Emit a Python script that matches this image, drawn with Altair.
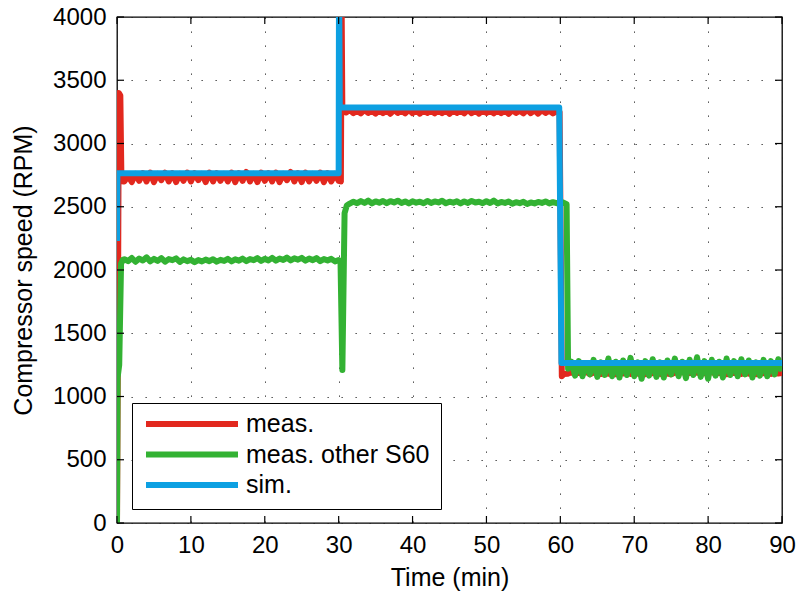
import altair as alt
import pandas as pd

# ---------------- data ----------------
series_names = ["meas.", "meas. other S60", "sim."]
series_colors = ["#E2281E", "#33B233", "#0DA0E2"]

x_ticks = [0, 10, 20, 30, 40, 50, 60, 70, 80, 90]
y_ticks = [0, 500, 1000, 1500, 2000, 2500, 3000, 3500, 4000]

# measured (red)
red_start_t = [0.0, 0.1, 0.25, 0.45, 0.6, 0.8]
red_start_v = [0, 1150, 3400, 3380, 2720, 2700]
red_seg1_t0 = 1.0
red_seg1 = [2700, 2745, 2695, 2760, 2705, 2765, 2700, 2770, 2695, 2760,
            2710, 2770, 2700, 2765, 2695, 2760, 2705, 2770, 2700, 2765,
            2710, 2760, 2695, 2770, 2700, 2765, 2705, 2760, 2700, 2770,
            2695, 2765, 2705, 2775, 2700, 2760, 2695, 2770, 2705, 2765,
            2700, 2770, 2695, 2760, 2710, 2775, 2700, 2765, 2695, 2770,
            2700, 2760, 2705, 2770, 2695, 2765, 2700, 2760, 2705]
red_jump1_t = [30.3, 30.4, 30.5]
red_jump1_v = [2700, 4100, 3260]
red_seg2_t0 = 31.0
red_seg2 = [3245, 3265, 3240, 3262, 3238, 3266, 3242, 3260, 3236, 3264,
            3240, 3262, 3235, 3265, 3242, 3260, 3238, 3266, 3240, 3262,
            3236, 3264, 3242, 3260, 3238, 3265, 3240, 3262, 3235, 3264,
            3242, 3260, 3238, 3266, 3240, 3262, 3236, 3264, 3242, 3260,
            3238, 3265, 3240, 3262, 3235, 3264, 3242, 3260, 3238, 3266,
            3240, 3262, 3236, 3264, 3242, 3260, 3238, 3255]
red_jump2_t = [59.9, 60.2, 60.5]
red_jump2_v = [3250, 1160, 1178]
red_seg3_t0 = 61.0
red_seg3 = [1180, 1192, 1178, 1188, 1182, 1195, 1176, 1190, 1184, 1178,
            1193, 1180, 1186, 1175, 1190, 1182, 1196, 1178, 1188, 1180,
            1192, 1176, 1186, 1184, 1194, 1178, 1188, 1182, 1175, 1190,
            1185, 1196, 1178, 1188, 1180, 1192, 1176, 1186, 1184, 1194,
            1178, 1188, 1182, 1175, 1190, 1185, 1196, 1178, 1188, 1180,
            1192, 1176, 1186, 1184, 1194, 1178, 1188, 1182, 1185]

# measured other S60 (green)
green_start_t = [0.0, 0.08, 0.3, 0.55, 0.8]
green_start_v = [0, 1150, 1250, 2050, 2080]
green_seg1_t0 = 1.0
green_seg1 = [2085, 2070, 2095, 2065, 2090, 2075, 2100, 2068, 2088, 2072,
              2094, 2066, 2086, 2078, 2092, 2064, 2084, 2070, 2080, 2062,
              2078, 2068, 2082, 2070, 2085, 2066, 2080, 2072, 2088, 2068,
              2084, 2074, 2090, 2070, 2086, 2078, 2094, 2072, 2088, 2076,
              2096, 2074, 2090, 2080, 2098, 2076, 2092, 2082, 2096, 2074,
              2090, 2078, 2094, 2070, 2086, 2076, 2088, 2068, 2078]
green_jump1_t = [30.25, 30.5, 30.8, 31.1]
green_jump1_v = [2070, 1210, 2450, 2510]
green_seg2_t0 = 31.5
green_seg2 = [2525, 2540, 2528, 2545, 2530, 2548, 2526, 2542, 2532, 2546,
              2528, 2544, 2534, 2548, 2530, 2542, 2526, 2544, 2532, 2540,
              2528, 2546, 2530, 2542, 2534, 2548, 2528, 2540, 2532, 2544,
              2526, 2542, 2530, 2546, 2534, 2540, 2528, 2544, 2530, 2548,
              2526, 2538, 2530, 2542, 2524, 2536, 2528, 2540, 2522, 2534,
              2526, 2538, 2530, 2542, 2526, 2536, 2528, 2540, 2530]
green_jump2_t = [60.85, 61.05]
green_jump2_v = [2520, 1220]
green_seg3_t0 = 61.5
green_seg3 = [1275, 1165, 1280, 1160, 1265, 1175, 1290, 1155, 1270, 1170,
              1300, 1160, 1275, 1150, 1285, 1170, 1305, 1160, 1270, 1140,
              1280, 1165, 1295, 1155, 1270, 1150, 1285, 1175, 1300, 1160,
              1275, 1145, 1290, 1170, 1310, 1155, 1280, 1140, 1290, 1165,
              1275, 1150, 1300, 1170, 1280, 1160, 1295, 1175, 1285, 1150,
              1270, 1165, 1290, 1160, 1280, 1175, 1295, 1200]

# simulation (blue)
blue_t = [0.0, 0.05, 30.0, 30.05, 30.15, 59.85, 60.15, 90.0]
blue_v = [2230, 2765, 2765, 4400, 3285, 3285, 1265, 1265]

STEP = 0.5  # sampling interval (min) of the noisy segments


def seg(t0, vals):
    return [t0 + STEP * i for i in range(len(vals))], list(vals)


def build(name, parts):
    rows = []
    for ts, vs in parts:
        for t, v in zip(ts, vs):
            rows.append({"t": t, "v": v, "s": name})
    return rows


rows = []
rows += build(series_names[0], [
    (red_start_t, red_start_v), seg(red_seg1_t0, red_seg1),
    (red_jump1_t, red_jump1_v), seg(red_seg2_t0, red_seg2),
    (red_jump2_t, red_jump2_v), seg(red_seg3_t0, red_seg3)])
rows += build(series_names[1], [
    (green_start_t, green_start_v), seg(green_seg1_t0, green_seg1),
    (green_jump1_t, green_jump1_v), seg(green_seg2_t0, green_seg2),
    (green_jump2_t, green_jump2_v), seg(green_seg3_t0, green_seg3)])
rows += build(series_names[2], [(blue_t, blue_v)])
df = pd.DataFrame(rows)
df["o"] = range(len(df))

W, H = 665, 506
FONT = "Liberation Sans"

xscale = alt.Scale(domain=[0, 90], nice=False, zero=False)
yscale = alt.Scale(domain=[0, 4000], nice=False)
cscale = alt.Scale(domain=series_names, range=series_colors)

legend = alt.Legend(
    orient="none", legendX=15, legendY=386, title=None,
    symbolType="stroke", symbolSize=8464, symbolStrokeWidth=6,
    clipHeight=20, rowPadding=5.5, padding=11, labelOffset=5,
    labelFontSize=25, labelFont=FONT, labelColor="black",
    strokeColor="black", fillColor="white", labelLimit=400,
)

xaxis = alt.Axis(values=x_ticks, title="Time (min)", grid=True, ticks=False,
                 tickSize=0, domain=False, labelPadding=10, titlePadding=8,
                 labelFontSize=24, titleFontSize=25, labelFlush=False)
yaxis = alt.Axis(values=y_ticks, title="Compressor speed (RPM)", grid=True,
                 ticks=False, tickSize=0, domain=False, labelPadding=11,
                 titlePadding=16, labelFontSize=24, titleFontSize=25,
                 labelFlush=False, format="d")


def line_layer(name):
    return alt.Chart(df).transform_filter(
        alt.datum.s == name
    ).mark_line(strokeWidth=6, clip=True, strokeJoin="round").encode(
        x=alt.X("t:Q", scale=xscale, axis=xaxis),
        y=alt.Y("v:Q", scale=yscale, axis=yaxis),
        color=alt.Color("s:N", scale=cscale, legend=legend),
        order="o:Q",
    )


xt = pd.DataFrame({"t": x_ticks})
yt = pd.DataFrame({"v": y_ticks})
TL = 7
tick_bottom = alt.Chart(xt).mark_rule(color="black", strokeWidth=1.2).encode(
    x=alt.X("t:Q", scale=xscale, axis=xaxis), y=alt.value(H), y2=alt.value(H - TL))
tick_top = alt.Chart(xt).mark_rule(color="black", strokeWidth=1.2).encode(
    x=alt.X("t:Q", scale=xscale, axis=xaxis), y=alt.value(0), y2=alt.value(TL))
tick_left = alt.Chart(yt).mark_rule(color="black", strokeWidth=1.2).encode(
    y=alt.Y("v:Q", scale=yscale, axis=yaxis), x=alt.value(0), x2=alt.value(TL))
tick_right = alt.Chart(yt).mark_rule(color="black", strokeWidth=1.2).encode(
    y=alt.Y("v:Q", scale=yscale, axis=yaxis), x=alt.value(W), x2=alt.value(W - TL))

chart = alt.layer(
    line_layer(series_names[0]),
    line_layer(series_names[1]),
    line_layer(series_names[2]),
    tick_bottom, tick_top, tick_left, tick_right,
).properties(
    width=W, height=H,
    autosize=alt.AutoSizeParams(type="none"),
    padding={"left": 117, "top": 17, "right": 18, "bottom": 74},
    background="white",
).configure_view(
    stroke="black", strokeWidth=1.3
).configure_axis(
    labelFont=FONT, titleFont=FONT, labelColor="black", titleColor="black",
    titleFontWeight="normal", gridColor="#222222", gridDash=[1.3, 12.7],
    gridWidth=1, gridOpacity=0.9,
)

chart.save("out.html", embed_options={"renderer": "svg", "actions": False})
